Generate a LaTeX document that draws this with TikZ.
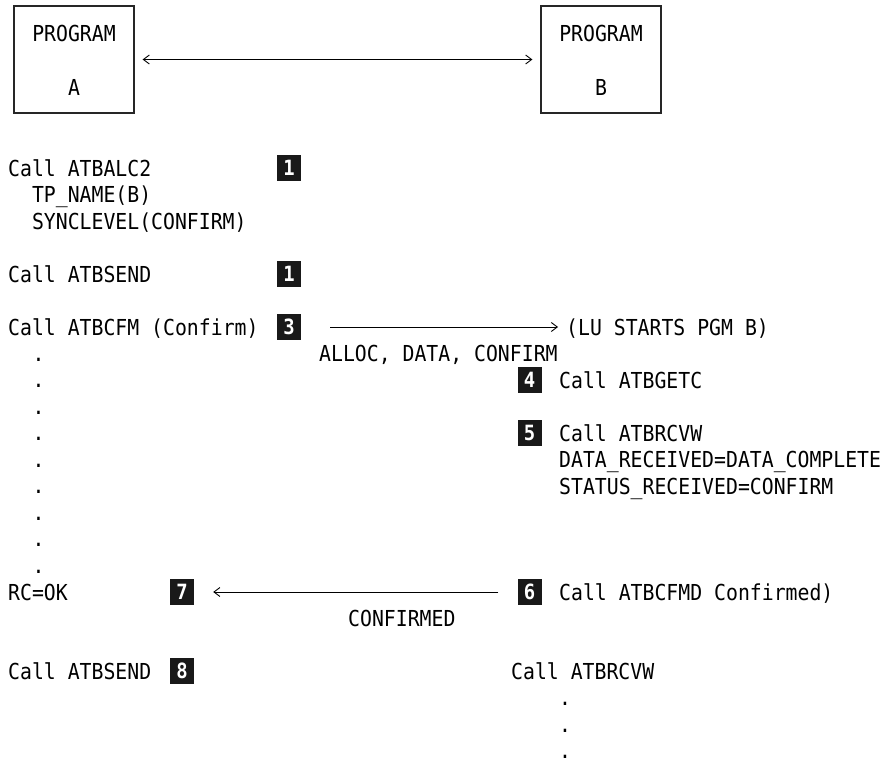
\documentclass[tikz,border=0pt]{standalone}
\usepackage{fontspec}
\setmonofont{DejaVu Sans Mono}[FakeStretch=0.9]
\usetikzlibrary{arrows.meta}
\newcommand\mytxtfont{\ttfamily\fontsize{22}{26}\selectfont}
\newcommand\mybadgefont{\ttfamily\bfseries\fontsize{21}{24}\selectfont}
\begin{document}
\begin{tikzpicture}[x=1pt,y=-1pt,
  txt/.style={anchor=base west, inner sep=0pt, font=\mytxtfont},
  ctxt/.style={anchor=base, inner sep=0pt, font=\mytxtfont},
  badge/.style={fill=black!90, minimum width=24pt, minimum height=26pt, inner sep=0pt, text=white, font=\mybadgefont},
  prog/.style={draw=black!85, line width=1.2pt, minimum width=120pt, minimum height=107pt, inner sep=0pt},
  msg/.style={line width=0.9pt, -{Straight Barb[length=6pt,width=9pt]}}]
\useasboundingbox (0,0) rectangle (883,763);
% program boxes
\node[prog] (pa) at (74,59.5) {};
\node[prog] (pb) at (601,59.5) {};
\node[ctxt] (pa1) at (74,41) {PROGRAM};
\node[ctxt] (pa2) at (74,95) {A};
\node[ctxt] (pb1) at (601,41) {PROGRAM};
\node[ctxt] (pb2) at (601,95) {B};
\draw[line width=0.9pt, {Straight Barb[length=6pt,width=9pt]}-{Straight Barb[length=6pt,width=9pt]}, shorten <=8pt, shorten >=8pt] (pa) -- (pb);
% texts
\node[txt] (t1) at (8,176) {Call ATBALC2};
\node[txt] (t2) at (31.8,202.5) {TP\_NAME(B)};
\node[txt] (t3) at (31.8,229) {SYNCLEVEL(CONFIRM)};
\node[txt] (t4) at (8,282) {Call ATBSEND};
\node[txt] (t5) at (8,335) {Call ATBCFM (Confirm)};
\node[txt] (lu) at (566,335) {(LU STARTS PGM B)};
\node[txt] (alloc) at (319,361.5) {ALLOC, DATA, CONFIRM};
\node[txt] (getc) at (559,388) {Call ATBGETC};
\node[txt] (rcvw) at (559,441) {Call ATBRCVW};
\node[txt] (drec) at (559,467.5) {DATA\_RECEIVED=DATA\_COMPLETE};
\node[txt] (srec) at (559,494) {STATUS\_RECEIVED=CONFIRM};
\node[txt] (rc) at (8,600) {RC=OK};
\node[txt] (cfmd) at (559,600) {Call ATBCFMD Confirmed)};
\node[txt] (confd) at (348,626.5) {CONFIRMED};
\node[txt] (send2) at (8,679) {Call ATBSEND};
\node[txt] (rcvw2) at (511,679) {Call ATBRCVW};
% dots
\foreach \i in {0,...,8} {
  \node[ctxt] (ld\i) at (38.5,{361+26.5*\i}) {.};
}
\foreach \i in {0,1,2} {
  \node[ctxt] (rd\i) at (565,{705.5+26.5*\i}) {.};
}
% badges
\node[badge] (b1) at (289,168) {1};
\node[badge] (b2) at (289,274) {1};
\node[badge] (b3) at (289,327) {3};
\node[badge] (b4) at (529.5,380) {4};
\node[badge] (b5) at (529.5,433) {5};
\node[badge] (b6) at (529.5,592) {6};
\node[badge] (b7) at (182,592) {7};
\node[badge] (b8) at (182,671) {8};
% messages
\draw[msg, shorten <=29pt, shorten >=8pt] (b3.east) -- (b3.east -| lu.west);
\draw[msg, shorten <=19pt, shorten >=19pt] (b6.west) -- (b7.east);
\end{tikzpicture}
\end{document}
